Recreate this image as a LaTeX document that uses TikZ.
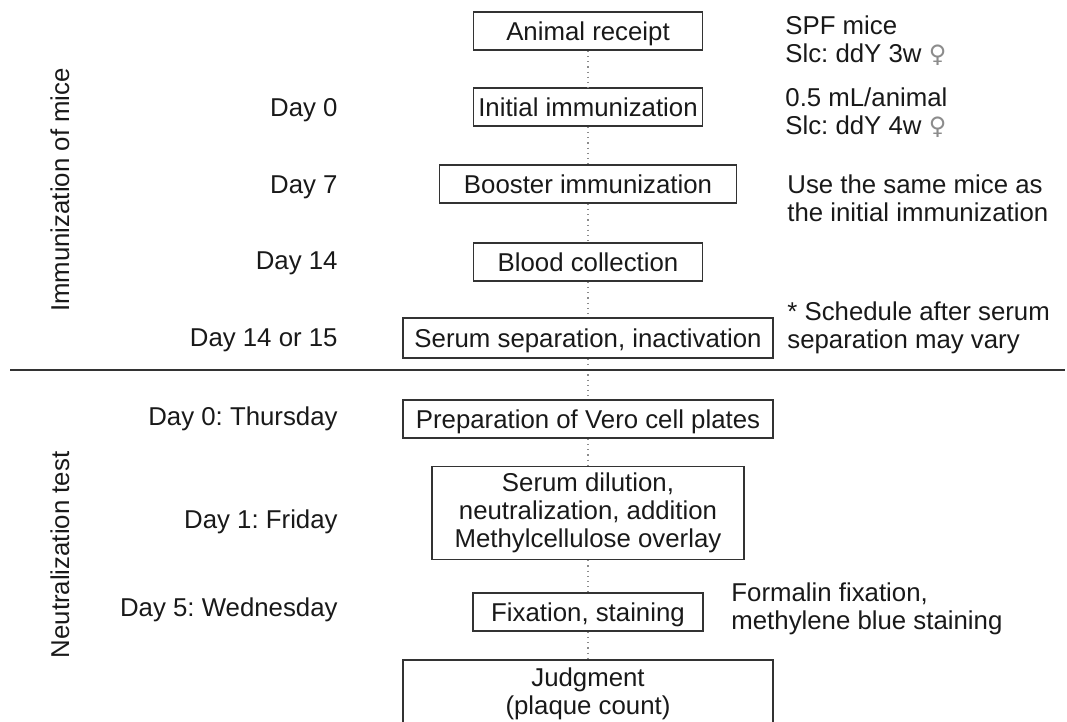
\documentclass[tikz,border=0pt]{standalone}
\usepackage{fontspec}
\setmainfont{Liberation Sans}
\newfontfamily\symfont{DejaVu Sans}
\frenchspacing
\begin{document}
\begin{tikzpicture}[x=0.5pt,y=-0.5pt,
  every node/.style={font=\fontsize{12.9}{14}\selectfont\frenchspacing, text=black!90},
  stepbox/.style={draw=black!80, line width=0.75pt, minimum height=19pt, inner xsep=2pt, inner ysep=0pt, align=center},
  one/.style={text height=9.2pt, text depth=0pt},
  lab/.style={anchor=east, inner sep=0pt, text height=9.2pt, text depth=0pt},
  note/.style={anchor=west, inner sep=0pt, align=left},
  link/.style={draw=black!45, dotted, line width=0.6pt}]
\useasboundingbox (0,0) rectangle (1067,722);
% boxes
\node[stepbox, one, minimum width=114.5pt] (ar) at (588,31) {Animal receipt};
\node[stepbox, one, minimum width=114.5pt] (ii) at (588,107) {Initial immunization};
\node[stepbox, one, minimum width=148.5pt] (bi) at (588,184) {Booster immunization};
\node[stepbox, one, minimum width=114.5pt] (bc) at (588,262) {Blood collection};
\node[stepbox, one, minimum width=185pt, minimum height=20pt] (ss) at (588,338) {Serum separation, inactivation};
\node[stepbox, one, minimum width=185pt] (vp) at (588,419) {Preparation of Vero cell plates};
\node[stepbox, minimum width=156pt, minimum height=46.5pt] (sd) at (588,513) {Serum dilution,\\neutralization, addition\\Methylcellulose overlay};
\node[stepbox, one, minimum width=115pt] (fs) at (588,612) {Fixation, staining};
\node[stepbox, minimum width=185pt, anchor=north, inner ysep=1pt, minimum height=35pt, text depth=4pt] (jd) at (588,659) {Judgment\\(plaque count)};
% connectors
\draw[link] (ar.south) -- (ii.north);
\draw[link] (ii.south) -- (bi.north);
\draw[link] (bi.south) -- (bc.north);
\draw[link] (bc.south) -- (ss.north);
\draw[link] (ss.south) -- (vp.north);
\draw[link] (vp.south) -- (sd.north);
\draw[link] (sd.south) -- (fs.north);
\draw[link] (fs.south) -- (jd.north);
% separator
\coordinate (sepL) at (10,370);
\coordinate (sepR) at (1065,370);
\draw[black!80, line width=0.75pt] (sepL) -- (sepR);
% left labels
\node[lab] (d0) at (338,107) {Day 0};
\node[lab] (d7) at (338,184) {Day 7};
\node[lab] (d14) at (338,260) {Day 14};
\node[lab] (d1415) at (338,337) {Day 14 or 15};
\node[lab] (n0) at (338,416) {Day 0: Thursday};
\node[lab] (n1) at (338,519) {Day 1: Friday};
\node[lab] (n5) at (338,607) {Day 5: Wednesday};
% section labels
\node[rotate=90, inner sep=0pt] (sec1) at (60,190) {Immunization of mice};
\node[rotate=90, inner sep=0pt] (sec2) at (60,555) {Neutralization test};
% right notes
\node[note] (nt1) at (785,41) {SPF mice\\Slc: ddY 3w {\symfont\color{black!45}\fontsize{12}{14}\selectfont ♀}};
\node[note] (nt2) at (785,113) {0.5 mL/animal\\Slc: ddY 4w {\symfont\color{black!45}\fontsize{12}{14}\selectfont ♀}};
\node[note] (nt3) at (787,198) {Use the same mice as\\the initial immunization};
\node[note] (nt4) at (787,328) {* Schedule after serum\\separation may vary};
\node[note] (nt5) at (731,609) {Formalin fixation,\\methylene blue staining};
\end{tikzpicture}
\end{document}
